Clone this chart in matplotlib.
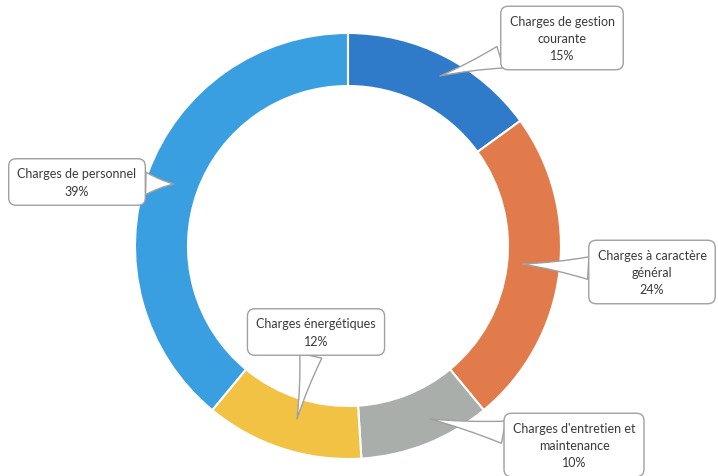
import matplotlib.pyplot as plt

# donut data, clockwise from 12 o'clock
labels = ["Charges de gestion\ncourante", "Charges à caractère\ngénéral",
          "Charges d'entretien et\nmaintenance", "Charges énergétiques",
          "Charges de personnel"]
shares = [15, 24, 10, 12, 39]
colors = ["#2f7bc9", "#e27b4c", "#a9aeaa", "#f1c244", "#399fe0"]

# callout text centre and pointer tip, in pixels from the top-left
text_pos = [(562, 39), (652, 273), (574, 446), (316, 333), (77, 183)]
tip_pos = [(440, 77), (522, 265), (430, 420), (297, 420), (174, 185)]

W, H = 718, 477
fig = plt.figure(figsize=(W / 100, H / 100), dpi=100)
ax = fig.add_axes([0, 0, 1, 1])
plt.rcParams['font.family'] = ['Lato', 'DejaVu Sans']

ax.pie(shares, colors=colors, startangle=90, counterclock=False,
       center=(348, H - 247), radius=213,
       wedgeprops=dict(width=53, edgecolor="white", linewidth=1.5))
ax.set_xlim(0, W)
ax.set_ylim(0, H)
ax.set_aspect("equal")
ax.axis("off")

for lab, val, (tx, ty), (px, py) in zip(labels, shares, text_pos, tip_pos):
    ax.annotate("{}\n{}%".format(lab, val), xy=(px, H - py), xytext=(tx, H - ty),
                ha="center", va="center", fontsize=9, color="#3a3a3a",
                linespacing=1.5,
                bbox=dict(boxstyle="round,pad=0.7,rounding_size=0.6",
                          fc="white", ec="#a0a0a0", lw=1),
                arrowprops=dict(arrowstyle="wedge,tail_width=1.8,shrink_factor=0.4",
                                fc="white", ec="#a0a0a0", lw=1, shrinkA=0, shrinkB=0))

fig.savefig("out.png", dpi=100)
